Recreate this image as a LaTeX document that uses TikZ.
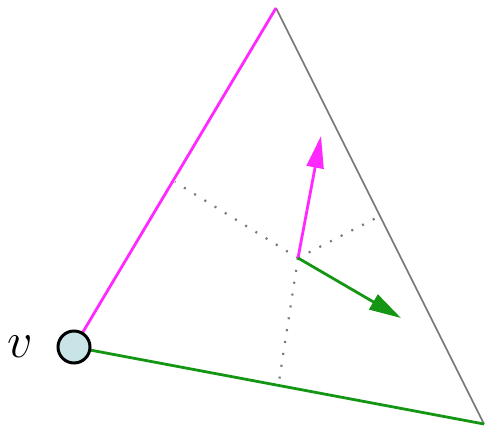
\documentclass[tikz,border=0pt]{standalone}
\usetikzlibrary{arrows.meta}
\definecolor{mag}{RGB}{255,40,255}
\definecolor{grn}{RGB}{20,150,20}
\definecolor{gry}{RGB}{120,120,120}
\definecolor{vfill}{RGB}{200,228,230}
\begin{document}
\begin{tikzpicture}[x=1pt,y=-1pt,
  edgeg/.style={gry,line width=1.6pt},
  edgem/.style={mag,line width=2.8pt},
  edgegr/.style={grn,line width=2.8pt},
  dots/.style={gry,line width=2.2pt,dash pattern=on 2pt off 10pt},
  arr/.style={line width=2.8pt,-{Triangle[length=32pt,width=17pt]}},
  vnode/.style={circle,draw=black,line width=3pt,fill=vfill,minimum size=32pt,inner sep=0pt}]
\useasboundingbox (0,0) rectangle (487,429);
\coordinate (T) at (276,8);
\coordinate (R) at (484,424);
\coordinate (V) at (74,347);
\coordinate (C) at (298,258);
\coordinate (ML) at (175,182);
\coordinate (MR) at (380,216);
\coordinate (MB) at (278,388);
\coordinate (PM) at (321,136);
\coordinate (PG) at (401,318);
\draw[dots] (C) -- (ML);
\draw[dots] (C) -- (MR);
\draw[dots] (C) -- (MB);
\draw[edgeg] (T) -- (R);
\draw[edgem] (V) -- (T);
\draw[edgegr] (V) -- (R);
\draw[arr,mag] (C) -- (PM);
\draw[arr,grn] (C) -- (PG);
\node[vnode] (v) at (V) {};
\node[scale=2.9] (lab) at (20,347) {\LARGE$v$};
\end{tikzpicture}
\end{document}
